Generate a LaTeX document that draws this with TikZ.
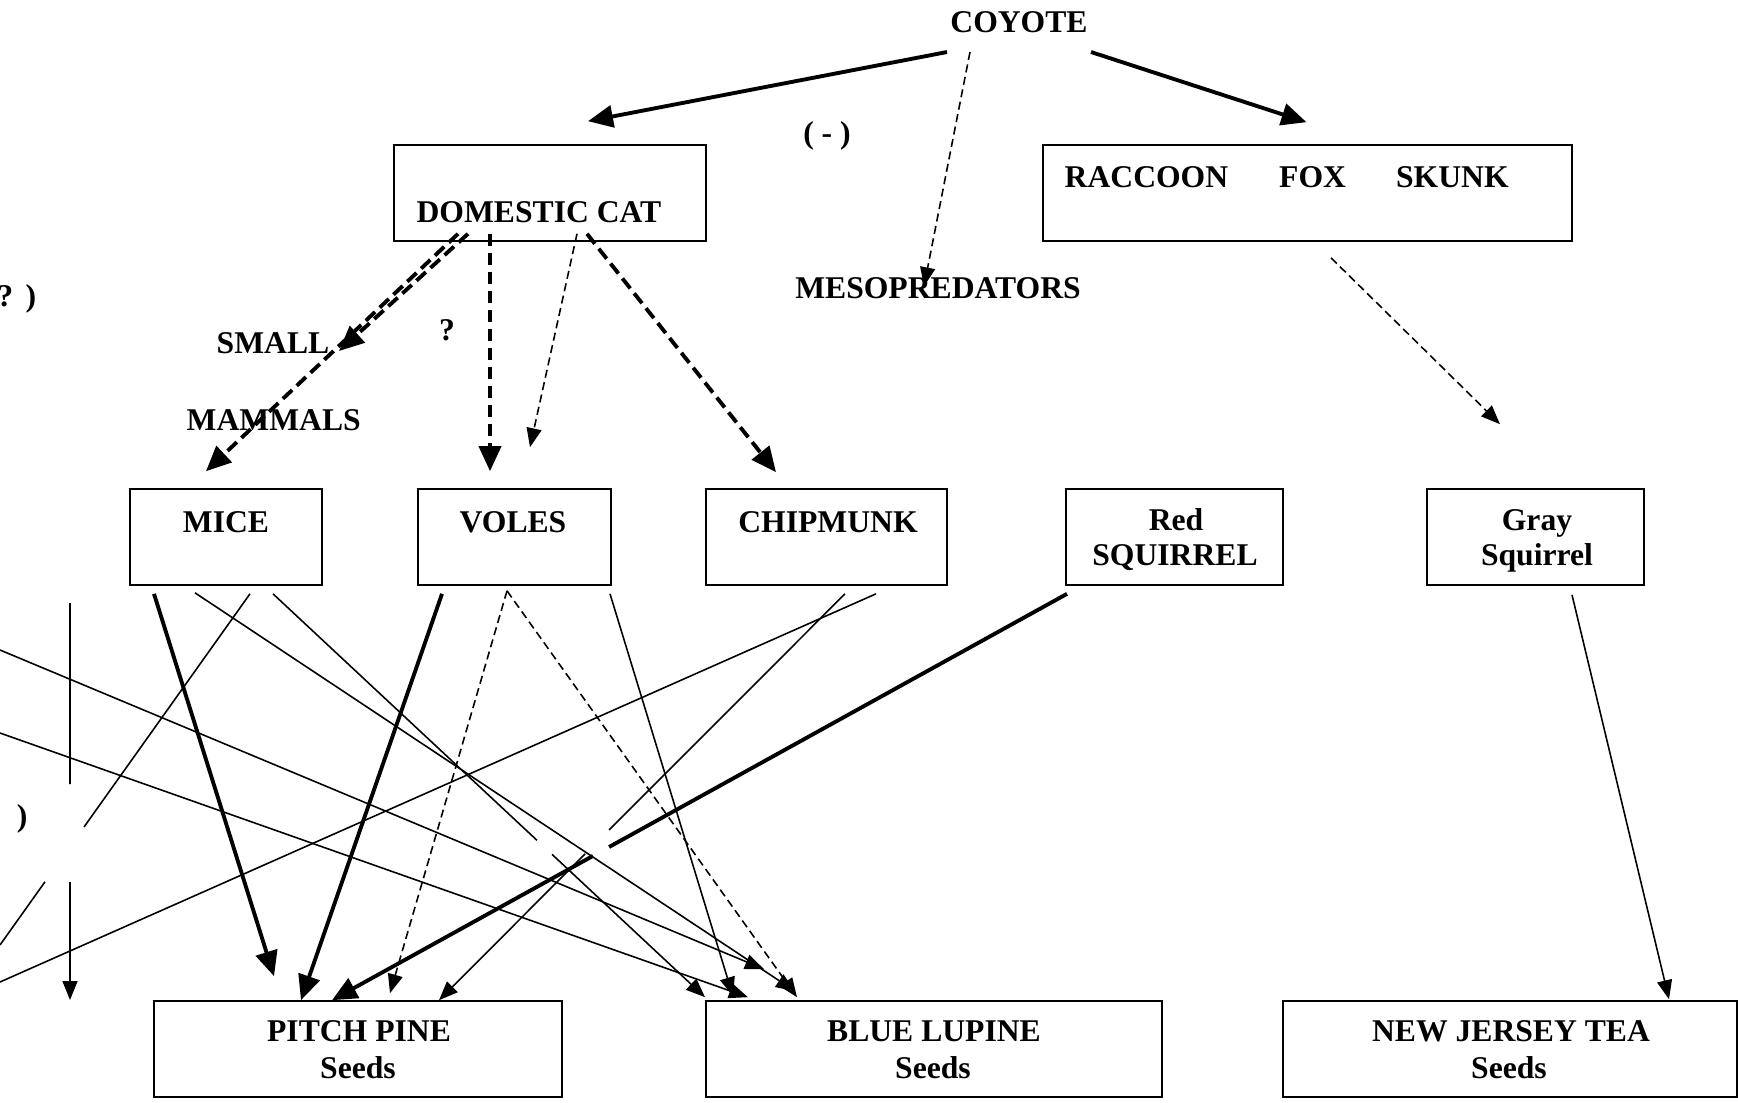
\documentclass[tikz,border=0pt]{standalone}
\usepackage{fontspec}
\setmainfont{Liberation Serif}
\usetikzlibrary{arrows.meta,calc}

\tikzset{
  box/.style={draw,line width=0.45pt,inner sep=0pt,minimum height=0.96cm},
  lbl/.style={inner sep=0pt,anchor=base,font=\fontsize{9}{11}\selectfont\bfseries},
  thn/.style={line width=0.45pt},
  thk/.style={line width=1.1pt},
  sarr/.style={-{Triangle[length=0.19cm,width=0.15cm]}},
  barr/.style={-{Triangle[length=0.25cm,width=0.22cm]}},
  thndash/.style={thn,dash pattern=on 2.3pt off 1.3pt},
  thkdash/.style={thk,dash pattern=on 3.6pt off 1.8pt}
}

\begin{document}
\begin{tikzpicture}[x=0.01cm,y=-0.01cm]
\useasboundingbox (0,0) rectangle (1738,1102);

% predators
\node[lbl] (coyote) at (1019,32) {COYOTE};
\node[lbl] (minus) at (827,143) {( - )};
\node[lbl] (meso) at (938,298) {MESOPREDATORS};
\node[lbl,anchor=base east] (qtop) at (37,306) {( ?\hspace{0.02cm} )};
\node[lbl,anchor=base east] (pbot) at (28,826) {)};

\node[box,minimum width=3.12cm] (cat) at (550,193) {};
\node[lbl] (catT) at (539,222) {DOMESTIC CAT};
\node[box,minimum width=5.29cm] (rfs) at (1307.5,193) {};
\node[lbl,anchor=base west] (rfsT) at (1064,187) {RACCOON\hspace{0.51cm}FOX\hspace{0.50cm}SKUNK};

\node[lbl,anchor=base west] (small) at (216,353) {SMALL};
\node[lbl,anchor=base west] (mammals) at (186,430) {MAMMALS};
\node[lbl] (quest) at (447,340) {?};

% small mammals
\node[box,minimum width=1.92cm] (mice) at (226,537) {};
\node[lbl] (miceT) at (226,532) {MICE};
\node[box,minimum width=1.93cm] (voles) at (514.5,537) {};
\node[lbl] (volesT) at (513,532) {VOLES};
\node[box,minimum width=2.41cm] (chip) at (826.5,537) {};
\node[lbl] (chipT) at (828,532) {CHIPMUNK};
\node[box,minimum width=2.17cm] (red) at (1174.5,537) {};
\node[lbl] (redA) at (1176,530) {Red};
\node[lbl] (redB) at (1175,565) {SQUIRREL};
\node[box,minimum width=2.17cm] (gray) at (1535.5,537) {};
\node[lbl] (grayA) at (1537,530) {Gray};
\node[lbl] (grayB) at (1537,565) {Squirrel};

% seeds
\node[box,minimum width=4.08cm] (pine) at (358,1049) {};
\node[lbl] (pineA) at (359,1041) {PITCH PINE};
\node[lbl] (pineB) at (358,1078) {Seeds};
\node[box,minimum width=4.56cm] (lupine) at (934,1049) {};
\node[lbl] (lupineA) at (934,1041) {BLUE LUPINE};
\node[lbl] (lupineB) at (933,1078) {Seeds};
\node[box,minimum width=4.54cm] (tea) at (1510,1049) {};
\node[lbl] (teaA) at (1511,1041) {NEW JERSEY TEA};
\node[lbl] (teaB) at (1509,1078) {Seeds};

% coyote
\draw[thk,barr] ($(coyote.south)+(-72,19)$) -- ($(cat.north)+(38,-23)$);
\draw[thk,barr] ($(coyote.south)+(72,19)$) -- ($(rfs.north)+(-1,-22)$);
\draw[thndash,sarr] ($(coyote.south)+(-49,19)$) -- ($(meso.north)+(-14,10)$);

% domestic cat
\draw[thkdash,barr] ($(cat.south)+(-82,-8)$) -- ($(small.base east)+(9,-2)$);
\draw[thkdash,barr] ($(cat.south)+(-92,-8)$) -- ($(mice.north)+(-20,-17)$);
\draw[thkdash,barr] ($(cat.south)+(-60,-8)$) -- ($(voles.north)+(-24.5,-17)$);
\draw[thndash,sarr] ($(cat.south)+(27,-8)$) -- ($(voles.north)+(15.5,-41)$);
\draw[thkdash,barr] ($(cat.south)+(37,-8)$) -- ($(chip.north)+(-50.5,-16)$);

% raccoon fox skunk
\draw[thndash,sarr] ($(rfs.south)+(23.5,16)$) -- ($(gray.north)+(-35.5,-64)$);

% mice
\draw[thk,barr] ($(mice.south)+(-72,8)$) -- ($(pine.north)+(-84,-24)$);
\draw[thn,sarr] ($(mice.south)+(-31,7)$) -- ($(lupine.north)+(-139,-9)$);
\coordinate (m2a) at ($(mice.south)+(47,8)$);
\coordinate (m2b) at ($(lupine.north)+(-229,-3)$);
\draw[thn] (m2a) -- ($(m2a)!0.611!(m2b)$);
\draw[thn,sarr] ($(m2a)!0.646!(m2b)$) -- (m2b);
\coordinate (m3a) at ($(mice.south)+(24,8)$);
\coordinate (edgeA) at (0,945);
\draw[thn] (m3a) -- ($(m3a)!0.664!(edgeA)$);
\draw[thn] ($(m3a)!0.82!(edgeA)$) -- (edgeA);

% voles
\draw[thk,barr] ($(voles.south)+(-72.5,8)$) -- ($(pine.north)+(-57,0)$);
\draw[thndash,sarr] ($(voles.south)+(-7.5,5)$) -- ($(pine.north)+(32,-7)$);
\draw[thndash,sarr] ($(voles.south)+(-7.5,5)$) -- ($(lupine.north)+(-137,-3)$);
\draw[thn,sarr] ($(voles.south)+(95.5,8)$) -- ($(lupine.north)+(-201,-4)$);

% chipmunk
\coordinate (c1a) at ($(chip.south)+(18.5,8)$);
\coordinate (c1b) at ($(pine.north)+(81,0)$);
\draw[thn] (c1a) -- ($(c1a)!0.581!(c1b)$);
\draw[thn,sarr] ($(c1a)!0.640!(c1b)$) -- (c1b);
\coordinate (edgeB) at (0,982);
\draw[thn] ($(chip.south)+(49.5,8)$) -- (edgeB);

% red squirrel
\coordinate (r1a) at ($(red.south)+(-107.5,8)$);
\coordinate (r1b) at ($(pine.north)+(-26,0)$);
\draw[thk] (r1a) -- ($(r1a)!0.623!(r1b)$);
\draw[thk,barr] ($(r1a)!0.645!(r1b)$) -- (r1b);

% gray squirrel
\draw[thn,sarr] ($(gray.south)+(36.5,9)$) -- ($(tea.north)+(159,-1)$);

% lines from the left edge
\coordinate (edgeC) at (0,650);
\coordinate (edgeD) at (0,733);
\draw[thn,sarr] (edgeC) -- ($(lupine.north)+(-170,-31)$);
\draw[thn,sarr] (edgeD) -- ($(lupine.north)+(-186,-3)$);
\coordinate (vtop) at (70,603);
\coordinate (vbot) at (70,1000);
\draw[thn] (vtop) -- ($(vtop)!0.456!(vbot)$);
\draw[thn,sarr] ($(vtop)!0.703!(vbot)$) -- (vbot);

\end{tikzpicture}
\end{document}
